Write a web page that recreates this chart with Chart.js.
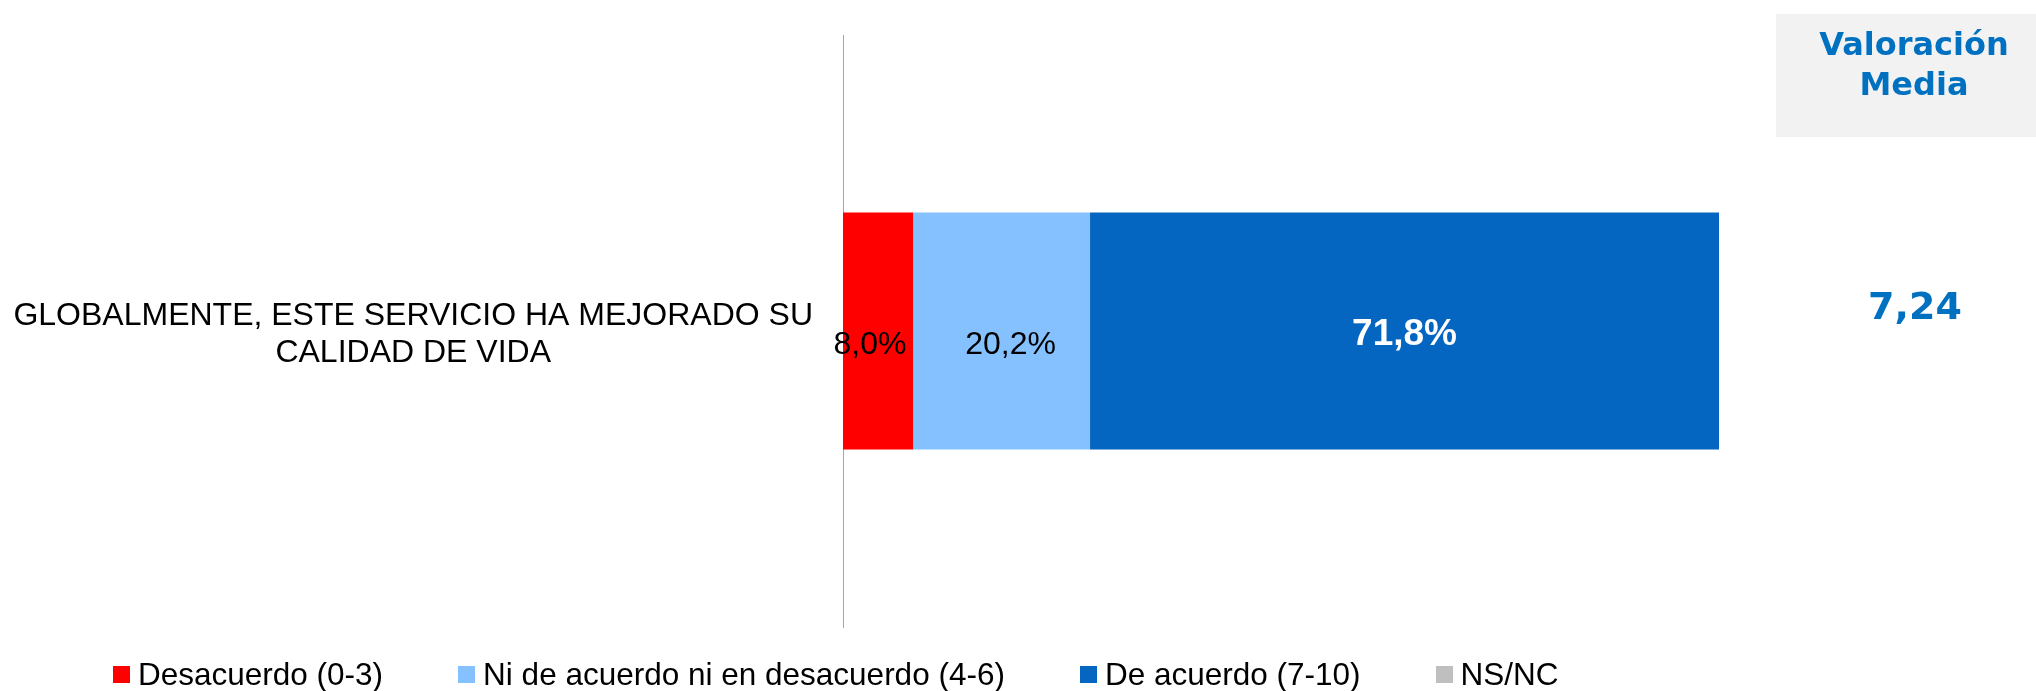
<!DOCTYPE html>
<html>
<head>
<meta charset="utf-8">
<script src="https://cdn.jsdelivr.net/npm/chart.js@4.4.1/dist/chart.umd.min.js"></script>
<style>
  body { margin: 0; background: #fff; }
  #wrap { position: relative; width: 2036px; height: 691px; }
  #legend {
    position: absolute; left: 113px; top: 657px;
    display: flex; gap: 75px;
    font-family: "Liberation Sans", Arial, sans-serif; font-size: 31.5px; line-height: 34px; color: #000;
  }
  #legend .item { display: flex; align-items: center; white-space: nowrap; }
  #legend .box { width: 17px; height: 17px; margin-right: 8px; }
</style>
</head>
<body>
<div id="wrap">
  <canvas id="chart" width="2036" height="691"></canvas>
  <div id="legend"></div>
</div>
<script>
// data
const categories = [['GLOBALMENTE, ESTE SERVICIO HA MEJORADO SU', 'CALIDAD DE VIDA']];
const seriesNames = ['Desacuerdo (0-3)', 'Ni de acuerdo ni en desacuerdo (4-6)', 'De acuerdo (7-10)', 'NS/NC'];
const desacuerdo = [8.0];
const niDeAcuerdo = [20.2];
const deAcuerdo = [71.8];
const nsnc = [0];
const mediaTitle = ['Valoración', 'Media'];
const mediaValues = ['7,24'];

const fmt = v => v.toFixed(1).replace('.', ',') + '%';

// percentage labels inside the bars
const barLabels = {
    id: 'barLabels',
    afterDatasetsDraw(chart) {
        const ctx = chart.ctx;
        chart.data.datasets.forEach((ds, i) => {
            const meta = chart.getDatasetMeta(i);
            const lbl = ds.valueLabel;
            meta.data.forEach((bar, j) => {
                const v = ds.data[j];
                if (!v) return;
                ctx.save();
                ctx.font = (lbl.bold ? 'bold ' : '') + lbl.size + 'px "Liberation Sans", Arial, sans-serif';
                ctx.fillStyle = lbl.color;
                ctx.textAlign = 'center';
                ctx.textBaseline = 'alphabetic';
                const x = (bar.x + bar.base) / 2 + lbl.dx;
                const y = bar.y + lbl.dy + lbl.size * 0.358;
                ctx.fillText(fmt(v), x, y);
                ctx.restore();
            });
        });
    }
};

// "Valoración Media" column on the right
const sideColumn = {
    id: 'sideColumn',
    beforeDraw(chart) {
        const ctx = chart.ctx;
        ctx.save();
        ctx.fillStyle = '#F2F2F2';
        ctx.fillRect(1776, 14, 260, 123);
        ctx.restore();
    },
    afterDraw(chart) {
        const ctx = chart.ctx;
        ctx.save();
        ctx.fillStyle = '#0070C0';
        ctx.textAlign = 'center';
        ctx.textBaseline = 'alphabetic';
        ctx.font = 'bold 32px "DejaVu Sans"';
        ctx.fillText(mediaTitle[0], 1914, 55);
        ctx.fillText(mediaTitle[1], 1914, 95);
        ctx.font = 'bold 38px "DejaVu Sans"';
        categories.forEach((c, i) => {
            const y = chart.scales.y.getPixelForValue(i);
            ctx.fillText(mediaValues[i], 1915, y - 12);
        });
        ctx.restore();
    }
};

const chart = new Chart(document.getElementById('chart'), {
    type: 'bar',
    data: {
        labels: categories,
        datasets: [
            {
                label: seriesNames[0],
                data: desacuerdo,
                backgroundColor: '#FF0000',
                valueLabel: {color: '#000', size: 32, bold: false, dx: -8, dy: 12}
            },
            {
                label: seriesNames[1],
                data: niDeAcuerdo,
                backgroundColor: '#85C1FF',
                valueLabel: {color: '#000', size: 32, bold: false, dx: 9, dy: 12}
            },
            {
                label: seriesNames[2],
                data: deAcuerdo,
                backgroundColor: '#0566C1',
                valueLabel: {color: '#fff', size: 37, bold: true, dx: 0, dy: 1}
            },
            {
                label: seriesNames[3],
                data: nsnc,
                backgroundColor: '#BFBFBF',
                valueLabel: {color: '#000', size: 32, bold: false, dx: 0, dy: 0}
            }
        ]
    },
    options: {
        indexAxis: 'y',
        responsive: false,
        animation: false,
        layout: {padding: {top: 35, right: 317, bottom: 64, left: 0}},
        datasets: {
            bar: {categoryPercentage: 1, barPercentage: 0.4, borderWidth: 0}
        },
        scales: {
            x: {
                stacked: true,
                display: false,
                min: 0,
                max: 100
            },
            y: {
                stacked: true,
                border: {display: true, color: '#A6A6A6', width: 1},
                grid: {display: false, drawTicks: false},
                ticks: {
                    color: '#000',
                    padding: 30,
                    labelOffset: 4,
                    crossAlign: 'center',
                    font: {family: '"Liberation Sans", Arial, sans-serif', size: 32, lineHeight: 1.15}
                },
                afterFit(scale) {
                    scale.width = 843;
                    // let the layout padding alone decide the plot height
                    scale.paddingTop = 0;
                    scale.paddingBottom = 0;
                }
            }
        },
        plugins: {
            legend: {display: false},
            tooltip: {enabled: false}
        }
    },
    plugins: [barLabels, sideColumn]
});

// legend under the chart
const legendEl = document.getElementById('legend');
chart.data.datasets.forEach(ds => {
    const item = document.createElement('div');
    item.className = 'item';
    item.innerHTML = `<span class="box" style="background:${ds.backgroundColor}"></span><span>${ds.label}</span>`;
    legendEl.appendChild(item);
});
</script>
</body>
</html>
